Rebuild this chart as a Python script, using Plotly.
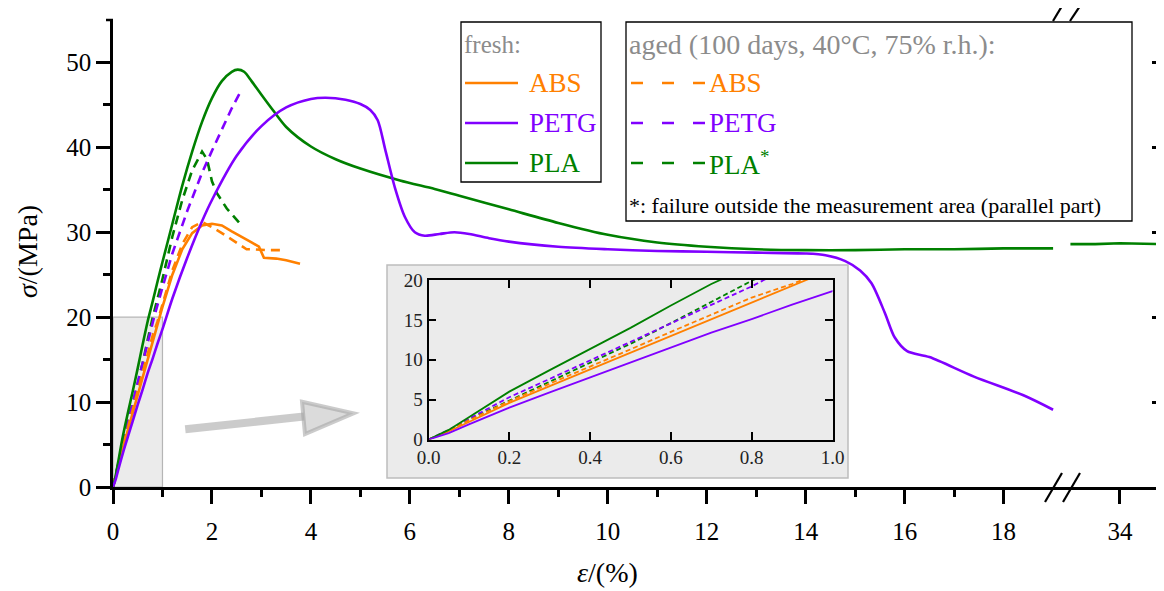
import plotly.graph_objects as go

# ---------------- data (strain in %, stress in MPa) ----------------
abs_fresh_x = [0, 0.05, 0.1, 0.2, 0.3, 0.4, 0.5, 0.6, 0.7, 0.8, 0.9, 0.94, 1.0, 1.2, 1.4, 1.6, 1.8, 2.0, 2.2, 2.4, 2.6, 2.8, 2.95, 3.05, 3.3, 3.5, 3.78]
abs_fresh_y = [0, 1.0, 2.2, 4.6, 6.7, 8.8, 10.9, 13.0, 15.1, 17.2, 19.2, 20.1, 21.2, 25.0, 28.0, 29.9, 30.8, 31.0, 30.8, 30.1, 29.4, 28.8, 28.3, 27.0, 26.9, 26.7, 26.3]

abs_aged_x = [0, 0.05, 0.1, 0.2, 0.3, 0.4, 0.5, 0.6, 0.7, 0.8, 0.9, 0.93, 1.0, 1.2, 1.4, 1.6, 1.8, 2.0, 2.2, 2.45, 2.7, 2.8, 3.1, 3.4]
abs_aged_y = [0, 1.1, 2.4, 4.8, 7.0, 9.1, 11.3, 13.5, 15.7, 17.8, 19.5, 20.1, 21.5, 25.5, 28.6, 30.6, 31.2, 30.6, 29.9, 29.0, 28.0, 28.0, 27.9, 27.9]

petg_fresh_x = [0, 0.05, 0.1, 0.2, 0.3, 0.4, 0.5, 0.6, 0.7, 0.8, 0.9, 1.0, 1.2, 1.5, 1.8, 2.0, 2.5, 3.0, 3.5, 4.0, 4.3, 4.7, 5.0, 5.2, 5.35, 5.5, 5.7, 5.9, 6.1, 6.3, 6.6, 6.9, 7.2, 7.6, 8.0, 9.0, 10.0, 11.0, 12.0, 13.0, 14.0, 14.4, 14.8, 15.1, 15.33, 15.6, 15.8, 16.05, 16.5, 17.4, 18.4, 19.0]
petg_fresh_y = [0, 0.8, 1.9, 4.0, 5.9, 7.8, 9.7, 11.5, 13.4, 15.1, 16.9, 18.6, 22.2, 27.0, 31.3, 33.8, 39.0, 42.5, 44.7, 45.7, 45.85, 45.6, 45.1, 44.4, 43.2, 39.8, 35.2, 31.8, 30.0, 29.6, 29.8, 30.0, 29.8, 29.3, 28.9, 28.3, 28.0, 27.8, 27.7, 27.6, 27.5, 27.3, 26.6, 25.5, 24.0, 20.5, 17.6, 16.0, 15.3, 13.0, 10.8, 9.1]

petg_aged_x = [0, 0.05, 0.1, 0.2, 0.3, 0.4, 0.5, 0.6, 0.7, 0.8, 0.83, 1.0, 1.2, 1.5, 1.8, 2.0, 2.2, 2.4, 2.6]
petg_aged_y = [0, 1.2, 2.6, 5.3, 7.6, 9.9, 12.3, 14.6, 16.9, 19.2, 20.0, 23.5, 27.5, 32.5, 37.0, 39.6, 42.2, 44.6, 46.8]

pla_fresh_x = [0, 0.05, 0.1, 0.2, 0.3, 0.4, 0.5, 0.6, 0.7, 0.8, 0.9, 1.0, 1.2, 1.4, 1.6, 1.8, 2.0, 2.2, 2.4, 2.52, 2.65, 2.8, 3.0, 3.23, 3.5, 4.0, 4.5, 5.0, 5.8, 6.5, 7.0, 8.0, 9.0, 10.0, 11.0, 12.0, 13.0, 14.0, 15.0, 16.0, 17.0, 18.0, 19.0]
pla_fresh_y = [0, 1.2, 2.8, 6.0, 8.7, 11.3, 14.0, 16.8, 19.5, 21.8, 24.2, 26.5, 31.0, 35.5, 39.5, 43.0, 45.8, 47.8, 48.9, 49.15, 48.9, 47.8, 46.2, 44.4, 42.4, 40.1, 38.6, 37.5, 36.1, 35.1, 34.3, 32.7, 31.1, 29.7, 28.8, 28.3, 28.0, 27.9, 27.9, 28.0, 28.0, 28.1, 28.1]
pla_fresh_tail_x = [33.0, 33.5, 34.0, 34.5, 35.0]
pla_fresh_tail_y = [28.6, 28.6, 28.7, 28.6, 28.6]

pla_aged_x = [0, 0.05, 0.1, 0.2, 0.3, 0.4, 0.5, 0.6, 0.7, 0.8, 1.0, 1.2, 1.4, 1.6, 1.8, 1.9, 2.0, 2.1, 2.3, 2.6]
pla_aged_y = [0, 1.1, 2.5, 4.9, 7.3, 9.7, 12.0, 14.6, 17.3, 19.9, 24.5, 29.5, 33.8, 37.3, 39.5, 38.6, 36.0, 34.6, 32.8, 30.8]

x_ticks_main = [0, 2, 4, 6, 8, 10, 12, 14, 16, 18]
x_ticks_tail = [34]
y_ticks = [0, 10, 20, 30, 40, 50]
inset_x_ticks = [0.0, 0.2, 0.4, 0.6, 0.8, 1.0]
inset_y_ticks = [0, 5, 10, 15, 20]

# ---------------- style ----------------
ORANGE = "#ff8000"
PURPLE = "#8000ff"
GREEN = "#008000"
GREY_TXT = "#8c8c8c"
FONT = "Liberation Serif"

OFF = 8                      # page offset of the figure (body margin)
W, H = 1164 - OFF, 591 - OFF
ML, MR, MT, MB = 113 - OFF, 0, 20 - OFF, 104
PW, PH = W - ML - MR, H - MT - MB


def px(x):   # page pixel x -> paper
    return (x - OFF - ML) / PW


def py(y):   # page pixel y -> paper
    return (H - MB - (y - OFF)) / PH


SPLIT = px(1062)

fig = go.Figure()

series = [
    (pla_aged_x, pla_aged_y, GREEN, True, "linear"),
    (petg_aged_x, petg_aged_y, PURPLE, True, "linear"),
    (abs_aged_x, abs_aged_y, ORANGE, True, "linear"),
    (abs_fresh_x, abs_fresh_y, ORANGE, False, "linear"),
    (pla_fresh_x, pla_fresh_y, GREEN, False, "spline"),
    (petg_fresh_x, petg_fresh_y, PURPLE, False, "spline"),
]
for xs, ys, col, dashed, shp in series:
    fig.add_trace(go.Scatter(x=xs, y=ys, mode="lines", xaxis="x", yaxis="y",
                             line=dict(color=col, width=2.6, dash="9px,6px" if dashed else "solid",
                                       shape=shp, smoothing=0.8),
                             showlegend=False, hoverinfo="skip"))
for xs, ys, col, dashed, shp in series:
    fig.add_trace(go.Scatter(x=xs, y=ys, mode="lines", xaxis="x3", yaxis="y3",
                             line=dict(color=col, width=1.8, dash="5px,3px" if dashed else "solid"),
                             showlegend=False, hoverinfo="skip"))
fig.add_trace(go.Scatter(x=pla_fresh_tail_x, y=pla_fresh_tail_y, mode="lines", xaxis="x2", yaxis="y2",
                         line=dict(color=GREEN, width=2.6), showlegend=False, hoverinfo="skip"))

axis_common = dict(showgrid=False, zeroline=False, linecolor="black", linewidth=2.5,
                   tickcolor="black", tickwidth=2.5, tickfont=dict(family=FONT, size=25, color="black"))

minor_x = [1, 3, 5, 7, 9, 11, 13, 15, 17]
minor_y = [5, 15, 25, 35, 45]

fig.update_layout(
    width=W, height=H, margin=dict(l=ML, r=MR, t=MT, b=MB, autoexpand=False),
    paper_bgcolor="white", plot_bgcolor="rgba(0,0,0,0)",
    xaxis=dict(domain=[0, SPLIT], range=[0, 19.18], anchor="y", showline=True,
               tickmode="array", tickvals=x_ticks_main, ticks="outside", ticklen=14,
               ticklabelstandoff=6,
               minor=dict(tickmode="array", tickvals=minor_x, ticks="outside", ticklen=7,
                          tickcolor="black", tickwidth=2.5),
               **axis_common),
    xaxis2=dict(domain=[SPLIT, 1], range=[32.83, 34.89], anchor="y2", showline=True,
                tickmode="array", tickvals=x_ticks_tail, ticks="outside", ticklen=14,
                ticklabelstandoff=6, **axis_common),
    xaxis4=dict(overlaying="x", side="top", anchor="y", range=[0, 19.18], showline=True,
                tickmode="array", tickvals=x_ticks_main, ticks="inside", ticklen=9,
                showticklabels=False,
                minor=dict(tickmode="array", tickvals=minor_x, ticks="inside", ticklen=6,
                           tickcolor="black", tickwidth=2.5),
                **axis_common),
    xaxis5=dict(overlaying="x2", side="top", anchor="y2", range=[32.83, 34.89], showline=True,
                tickmode="array", tickvals=x_ticks_tail, ticks="inside", ticklen=9,
                showticklabels=False, **axis_common),
    yaxis=dict(domain=[0, 1], range=[0, 55], anchor="x", showline=True,
               tickmode="array", tickvals=y_ticks, ticks="outside", ticklen=14,
               minor=dict(tickmode="array", tickvals=minor_y, ticks="outside", ticklen=7,
                          tickcolor="black", tickwidth=2.5),
               **axis_common),
    yaxis2=dict(domain=[0, 1], side="right", anchor="x2", range=[0, 55], showline=False,
                tickmode="array", tickvals=y_ticks, ticks="inside", ticklen=12,
                showticklabels=False,
                minor=dict(tickmode="array", tickvals=minor_y, ticks="inside", ticklen=6,
                           tickcolor="black", tickwidth=2.5),
                **axis_common),
    xaxis3=dict(domain=[px(428.5), px(832.5)], range=[0, 1], anchor="y3", showline=True, mirror="ticks",
                tickmode="array", tickvals=inset_x_ticks, tickformat=".1f", ticks="inside", ticklen=8,
                showgrid=False, zeroline=False, linecolor="black", linewidth=1.8,
                tickcolor="black", tickwidth=1.8, tickfont=dict(family=FONT, size=19, color="#222")),
    yaxis3=dict(domain=[py(439.5), py(280)], range=[0, 20], anchor="x3", showline=True, mirror="ticks",
                tickmode="array", tickvals=inset_y_ticks, ticks="inside", ticklen=8,
                showgrid=False, zeroline=False, linecolor="black", linewidth=1.8,
                tickcolor="black", tickwidth=1.8, tickfont=dict(family=FONT, size=19, color="#222")),
)

shapes = []
# grey zoom region in main plot
shapes.append(dict(type="rect", xref="x", yref="y", x0=0, x1=1, y0=0, y1=20, layer="below",
                   fillcolor="#ebebeb", line=dict(color="#b5b5b5", width=1.2)))
# inset background
shapes.append(dict(type="rect", xref="paper", yref="paper", x0=px(387), x1=px(848), y0=py(478), y1=py(265),
                   layer="below", fillcolor="#ebebeb", line=dict(color="#bdbdbd", width=1.5)))
# arrow (shaft + head)
shapes.append(dict(type="line", xref="x", yref="y", x0=1.46, y0=6.8, x1=3.86, y1=8.3,
                   line=dict(color="rgba(160,160,160,0.55)", width=8)))
shapes.append(dict(type="path", xref="x", yref="y", path="M 3.82,10.04 L 4.86,8.68 L 3.88,6.24 Z",
                   fillcolor="rgba(175,175,175,0.45)", line=dict(color="rgba(160,160,160,0.55)", width=4)))
# axis break marks and small top-left extension of the frame
for (x0, y0, x1, y1) in [(1045, 502, 1062, 473), (1063, 502, 1080, 473), (1053, 21, 1062, 6), (1070, 21, 1080, 6)]:
    shapes.append(dict(type="line", xref="paper", yref="paper", x0=px(x0), y0=py(y0), x1=px(x1), y1=py(y1),
                       line=dict(color="black", width=2.2)))
shapes.append(dict(type="line", xref="paper", yref="paper", x0=px(106), y0=1, x1=0, y1=1,
                   line=dict(color="black", width=2.5)))
# legend boxes
shapes.append(dict(type="rect", xref="paper", yref="paper", x0=px(461), x1=px(601), y0=py(182), y1=py(22),
                   fillcolor="white", line=dict(color="black", width=1.3)))
shapes.append(dict(type="rect", xref="paper", yref="paper", x0=px(626), x1=px(1132), y0=py(221), y1=py(22),
                   fillcolor="white", line=dict(color="black", width=1.3)))

annotations = []
leg_rows = [("ABS", ORANGE, 83), ("PETG", PURPLE, 123), ("PLA", GREEN, 163)]
for name, col, yy in leg_rows:
    shapes.append(dict(type="line", xref="paper", yref="paper", x0=px(465), x1=px(518), y0=py(yy), y1=py(yy),
                       line=dict(color=col, width=2.6)))
    annotations.append(dict(xref="paper", yref="paper", x=px(527), y=py(yy), text=name, showarrow=False,
                            xanchor="left", yanchor="middle", font=dict(family=FONT, size=27, color=col)))
    shapes.append(dict(type="line", xref="paper", yref="paper", x0=px(631), x1=px(705), y0=py(yy), y1=py(yy),
                       line=dict(color=col, width=2.6, dash="12px,19px")))
    annotations.append(dict(xref="paper", yref="paper", x=px(707), y=py(yy),
                            text=name + ("<sup>*</sup>" if name == "PLA" else ""), showarrow=False,
                            xanchor="left", yanchor="middle", font=dict(family=FONT, size=27, color=col)))
annotations.append(dict(xref="paper", yref="paper", x=px(462), y=py(45), text="fresh:", showarrow=False,
                        xanchor="left", yanchor="middle", font=dict(family=FONT, size=25, color=GREY_TXT)))
annotations.append(dict(xref="paper", yref="paper", x=px(627), y=py(45), text="aged (100 days, 40°C, 75% r.h.):",
                        showarrow=False, xanchor="left", yanchor="middle",
                        font=dict(family=FONT, size=28, color=GREY_TXT)))
annotations.append(dict(xref="paper", yref="paper", x=px(627), y=py(205),
                        text="*: failure outside the measurement area (parallel part)",
                        showarrow=False, xanchor="left", yanchor="middle",
                        font=dict(family=FONT, size=22, color="black")))
# axis titles
annotations.append(dict(xref="paper", yref="paper", x=px(27), y=py(252), text="<i>σ</i>/(MPa)", textangle=-90,
                        showarrow=False, xanchor="center", yanchor="middle",
                        font=dict(family=FONT, size=28, color="black")))
annotations.append(dict(xref="paper", yref="paper", x=px(607), y=py(572), text="<i>ε</i>/(%)",
                        showarrow=False, xanchor="center", yanchor="middle",
                        font=dict(family=FONT, size=28, color="black")))

fig.update_layout(shapes=shapes, annotations=annotations)
fig.write_html("out.html")
